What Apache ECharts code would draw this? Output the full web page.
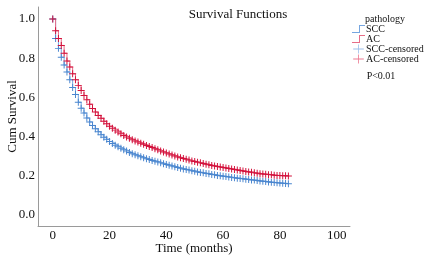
<!DOCTYPE html>
<html>
<head>
<meta charset="utf-8">
<script src="https://cdn.jsdelivr.net/npm/echarts@6/dist/echarts.min.js"></script>
<style>
  html, body { margin: 0; padding: 0; background: #fff; }
  #chart { width: 425px; height: 257px; }
</style>
</head>
<body>
<div id="chart"></div>
<script>
// months of follow-up (monthly steps)
var months = [];
for (var m = 0; m <= 83; m++) months.push(m);

// Cum Survival, SCC group
var sccSurv = [
  1.000, 0.900, 0.850, 0.805, 0.765, 0.730, 0.690, 0.650, 0.615, 0.575,
  0.545, 0.520, 0.495, 0.475, 0.457, 0.440, 0.425, 0.410, 0.397, 0.386,
  0.375, 0.365, 0.356, 0.348, 0.340, 0.333, 0.326, 0.319, 0.313, 0.307,
  0.302, 0.297, 0.292, 0.287, 0.283, 0.278, 0.274, 0.270, 0.266, 0.262,
  0.258, 0.254, 0.250, 0.246, 0.242, 0.239, 0.235, 0.232, 0.229, 0.226,
  0.223, 0.220, 0.217, 0.215, 0.212, 0.210, 0.207, 0.205, 0.202, 0.200,
  0.198, 0.196, 0.194, 0.192, 0.190, 0.188, 0.186, 0.185, 0.183, 0.181,
  0.179, 0.178, 0.176, 0.174, 0.172, 0.171, 0.169, 0.167, 0.166, 0.164,
  0.163, 0.162, 0.161, 0.160
];

// Cum Survival, AC group
var acSurv = [
  1.000, 0.940, 0.900, 0.865, 0.825, 0.785, 0.755, 0.720, 0.690, 0.660,
  0.635, 0.610, 0.588, 0.565, 0.543, 0.525, 0.508, 0.493, 0.478, 0.465,
  0.453, 0.443, 0.433, 0.424, 0.415, 0.406, 0.398, 0.391, 0.384, 0.378,
  0.372, 0.366, 0.361, 0.355, 0.349, 0.344, 0.338, 0.333, 0.327, 0.321,
  0.316, 0.311, 0.306, 0.301, 0.296, 0.292, 0.288, 0.284, 0.280, 0.276,
  0.273, 0.269, 0.266, 0.263, 0.259, 0.256, 0.253, 0.250, 0.247, 0.245,
  0.242, 0.240, 0.237, 0.235, 0.232, 0.230, 0.227, 0.225, 0.222, 0.220,
  0.218, 0.215, 0.213, 0.211, 0.209, 0.208, 0.206, 0.205, 0.203, 0.202,
  0.201, 0.200, 0.200, 0.199
];

var xTicks = [0, 20, 40, 60, 80, 100];
var yTicks = [0, 0.2, 0.4, 0.6, 0.8, 1.0];

var serif = 'Liberation Serif';
var plusPath = 'path://M-0.14,-1H0.14V-0.14H1V0.14H0.14V1H-0.14V0.14H-1V-0.14H-0.14Z';
var stepIcon = 'path://M0,8H7V1H13V2H8V9H0Z';
var plusIcon = 'path://M6,0H7V5H13V6H7V11H6V6H0V5H6Z';

function pairs(ys) {
  return months.map(function (t, i) { return [t, ys[i]]; });
}

var chart = echarts.init(document.getElementById('chart'));
chart.setOption({
  animation: false,
  backgroundColor: '#fff',
  title: [
    { text: 'Survival Functions', left: 233, top: 3, textAlign: 'center',
      textStyle: { fontFamily: serif, fontSize: 13, fontWeight: 'normal', color: '#111' } },
    { text: 'pathology', left: 380, top: 9, textAlign: 'center',
      textStyle: { fontFamily: serif, fontSize: 10, fontWeight: 'normal', color: '#111' } },
    { text: 'P<0.01', left: 376, top: 66, textAlign: 'center',
      textStyle: { fontFamily: serif, fontSize: 10, fontWeight: 'normal', color: '#111' } }
  ],
  legend: {
    orient: 'vertical',
    left: 352,
    top: 24,
    itemWidth: 13,
    itemHeight: 9,
    itemGap: 0,
    padding: 0,
    textStyle: { fontFamily: serif, fontSize: 10, color: '#111', padding: [0, 0, 0, -4] },
    data: [
      { name: 'SCC', icon: stepIcon, itemStyle: { color: '#76a6e0' } },
      { name: 'AC', icon: stepIcon, itemStyle: { color: '#e76d87' } },
      { name: 'SCC-censored', icon: plusIcon, itemStyle: { color: '#9ec0ec' } },
      { name: 'AC-censored', icon: plusIcon, itemStyle: { color: '#ec7b93' } }
    ]
  },
  grid: { left: 38, right: 75, top: 7, bottom: 31, containLabel: false, outerBoundsMode: 'none' },
  xAxis: {
    type: 'value',
    min: -5.2,
    max: 104.7,
    name: 'Time (months)',
    nameLocation: 'middle',
    nameGap: 16,
    nameMoveOverlap: false,
    nameTextStyle: { fontFamily: serif, fontSize: 13, color: '#111' },
    axisLine: { show: true, onZero: false, lineStyle: { color: '#9a9a9a', width: 1 } },
    axisTick: { show: false },
    splitLine: { show: false },
    axisLabel: {
      customValues: xTicks,
      margin: 3,
      fontFamily: serif, fontSize: 13, color: '#111'
    }
  },
  yAxis: {
    type: 'value',
    min: -0.056,
    max: 1.061,
    name: 'Cum Survival',
    nameLocation: 'middle',
    nameGap: 19,
    nameMoveOverlap: false,
    nameTextStyle: { fontFamily: serif, fontSize: 13, color: '#111' },
    axisLine: { show: true, onZero: false, lineStyle: { color: '#9a9a9a', width: 1 } },
    axisTick: { show: false },
    splitLine: { show: false },
    axisLabel: {
      customValues: yTicks,
      margin: 3,
      fontFamily: serif, fontSize: 13, color: '#111',
      formatter: function (v) { return v.toFixed(1); }
    }
  },
  series: [
    {
      name: 'SCC', type: 'line', step: 'end', data: pairs(sccSurv),
      showSymbol: false, lineStyle: { color: '#76a6e0', width: 1 },
      itemStyle: { color: '#76a6e0' }, z: 2
    },
    {
      name: 'AC', type: 'line', step: 'end', data: pairs(acSurv),
      showSymbol: false, lineStyle: { color: '#e76d87', width: 1 },
      itemStyle: { color: '#e76d87' }, z: 2
    },
    {
      name: 'SCC-censored', type: 'scatter', data: pairs(sccSurv),
      symbol: plusPath, symbolSize: 7,
      itemStyle: { color: '#4a86cf', opacity: 1 }, z: 3
    },
    {
      name: 'AC-censored', type: 'scatter', data: pairs(acSurv),
      symbol: plusPath, symbolSize: 7,
      itemStyle: { color: '#d3123c', opacity: 1 }, z: 3
    }
  ]
});
</script>
</body>
</html>
